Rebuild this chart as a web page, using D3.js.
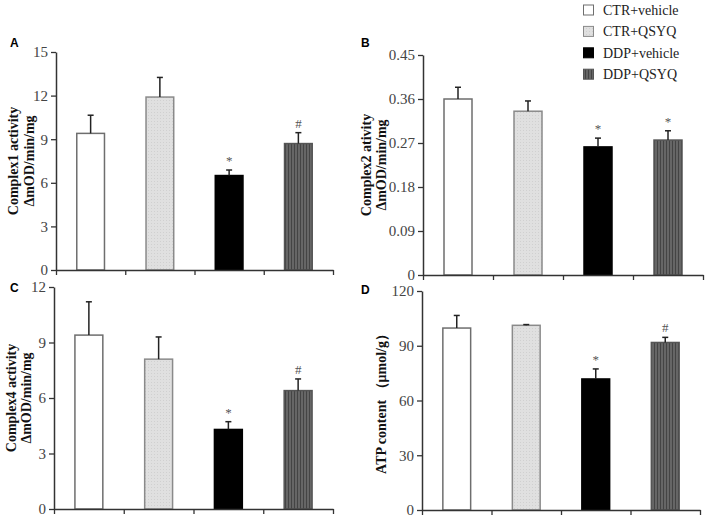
<!DOCTYPE html>
<html>
<head>
<meta charset="utf-8">
<script src="https://cdn.jsdelivr.net/npm/d3@7"></script>
<style>
  html, body { margin: 0; padding: 0; background: #fff; }
  svg { display: block; }
</style>
</head>
<body>
<svg id="chart" width="708" height="518"></svg>
<script>
// ---- data ----
const groups = ["CTR+vehicle", "CTR+QSYQ", "DDP+vehicle", "DDP+QSYQ"];

const complex1Values = [9.4, 11.9, 6.5, 8.7];
const complex1Errors = [1.25, 1.35, 0.38, 0.75];
const complex1Marks  = ["", "", "*", "#"];
const complex1Ticks  = [0, 3, 6, 9, 12, 15];

const complex2Values = [0.36, 0.335, 0.262, 0.276];
const complex2Errors = [0.024, 0.021, 0.018, 0.019];
const complex2Marks  = ["", "", "*", "*"];
const complex2Ticks  = [0, 0.09, 0.18, 0.27, 0.36, 0.45];

const complex4Values = [9.4, 8.1, 4.3, 6.4];
const complex4Errors = [1.8, 1.2, 0.42, 0.63];
const complex4Marks  = ["", "", "*", "#"];
const complex4Ticks  = [0, 3, 6, 9, 12];

const atpValues = [99.7, 101.2, 71.8, 91.8];
const atpErrors = [6.9, 0.4, 5.5, 2.8];
const atpMarks  = ["", "", "*", "#"];
const atpTicks  = [0, 30, 60, 90, 120];

const panelLetters = ["A", "B", "C", "D"];
const panelTitles = [
  ["Complex1 activity", "\u0394mOD/min/mg"],
  ["Complex2 ativity", "\u0394mOD/min/mg"],
  ["Complex4 activity", "\u0394mOD/min/mg"],
  ["ATP content \uFF08\u03BCmol/g\uFF09"]
];

// ---- layout ----
const svg = d3.select("#chart");
const serif = "'Liberation Serif','Times New Roman',serif";
const sans = "'Liberation Sans',Arial,sans-serif";

const defs = svg.append("defs");
const pLight = defs.append("pattern").attr("id", "pLight").attr("patternUnits", "userSpaceOnUse")
  .attr("width", 3).attr("height", 3);
pLight.append("rect").attr("width", 3).attr("height", 3).attr("fill", "#e0e0e0");
pLight.append("rect").attr("x", 1).attr("y", 1).attr("width", 1).attr("height", 1).attr("fill", "#d0d0d0");
const pDark = defs.append("pattern").attr("id", "pDark").attr("patternUnits", "userSpaceOnUse")
  .attr("width", 3).attr("height", 3);
pDark.append("rect").attr("width", 3).attr("height", 3).attr("fill", "#666");
pDark.append("rect").attr("x", 0).attr("width", 1).attr("height", 3).attr("fill", "#444");

const fills   = ["#ffffff", "url(#pLight)", "#000000", "url(#pDark)"];
const strokes = ["#6e6e6e", "#8a8a8a", "#000000", "#555555"];

const panels = [
  { values: complex1Values, errors: complex1Errors, marks: complex1Marks, ticks: complex1Ticks,
    x0: 56, x1: 333, yTop: 52, yBot: 270, fmt: d => d, letter: [10, 47], title: [18, 34] },
  { values: complex2Values, errors: complex2Errors, marks: complex2Marks, ticks: complex2Ticks,
    x0: 423, x1: 703, yTop: 55, yBot: 275, fmt: d => d === 0 ? "0" : d.toFixed(2), letter: [361, 47], title: [371, 386] },
  { values: complex4Values, errors: complex4Errors, marks: complex4Marks, ticks: complex4Ticks,
    x0: 54, x1: 333, yTop: 287, yBot: 509, fmt: d => d, letter: [10, 292], title: [16, 31] },
  { values: atpValues, errors: atpErrors, marks: atpMarks, ticks: atpTicks,
    x0: 422, x1: 700, yTop: 291, yBot: 510, fmt: d => d, letter: [361, 294], title: [386] }
];

panels.forEach((p, i) => {
  const g = svg.append("g");
  const maxV = p.ticks[p.ticks.length - 1];
  const y = d3.scaleLinear().domain([0, maxV]).range([p.yBot, p.yTop]);
  const x = d3.scaleBand().domain(groups).range([p.x0, p.x1]).paddingInner(0.6).paddingOuter(0.3);
  const xb = d3.scaleLinear().domain([0, groups.length]).range([p.x0, p.x1]);

  // bars
  g.selectAll("rect.bar").data(groups).join("rect")
    .attr("class", "bar")
    .attr("x", d => x(d))
    .attr("width", x.bandwidth())
    .attr("y", (d, j) => y(p.values[j]))
    .attr("height", (d, j) => y(0) - y(p.values[j]))
    .attr("fill", (d, j) => fills[j])
    .attr("stroke", (d, j) => strokes[j])
    .attr("stroke-width", 1.5);

  // error bars
  groups.forEach((d, j) => {
    const cx = x(d) + x.bandwidth() / 2;
    const top = y(p.values[j] + p.errors[j]);
    g.append("line").attr("x1", cx).attr("x2", cx)
      .attr("y1", y(p.values[j])).attr("y2", top)
      .attr("stroke", "#222").attr("stroke-width", 1.5);
    g.append("line").attr("x1", cx - 3).attr("x2", cx + 3)
      .attr("y1", top).attr("y2", top)
      .attr("stroke", "#222").attr("stroke-width", 1.5);
    if (p.marks[j]) {
      g.append("text").attr("x", cx).attr("y", top - 5)
        .attr("text-anchor", "middle")
        .attr("font-family", serif).attr("font-size", 13)
        .attr("fill", "#555").text(p.marks[j]);
    }
  });

  // y axis
  const ya = g.append("g").attr("transform", `translate(${p.x0},0)`)
    .call(d3.axisLeft(y).tickValues(p.ticks).tickFormat(p.fmt).tickSize(5).tickSizeOuter(0).tickPadding(3));
  ya.select(".domain").attr("stroke", "#333").attr("stroke-width", 1.5);
  ya.selectAll(".tick line").attr("stroke", "#333").attr("stroke-width", 1.3);
  ya.selectAll(".tick text").attr("font-family", serif).attr("font-size", 15).attr("fill", "#444");

  // x axis
  const xa = g.append("g").attr("transform", `translate(0,${p.yBot})`)
    .call(d3.axisBottom(xb).tickValues(d3.range(groups.length + 1)).tickFormat("").tickSize(5).tickSizeOuter(0));
  xa.select(".domain").attr("stroke", "#333").attr("stroke-width", 1.5);
  xa.selectAll(".tick line").attr("stroke", "#333").attr("stroke-width", 1.3);

  // panel letter
  svg.append("text").attr("x", p.letter[0]).attr("y", p.letter[1])
    .attr("font-family", sans).attr("font-weight", "bold").attr("font-size", 12)
    .attr("fill", "#000").text(panelLetters[i]);

  // y title
  const cy = (p.yTop + p.yBot) / 2;
  panelTitles[i].forEach((line, k) => {
    svg.append("text")
      .attr("transform", `translate(${p.title[k]},${cy}) rotate(-90)`)
      .attr("text-anchor", "middle")
      .attr("font-family", serif).attr("font-weight", "bold").attr("font-size", 14)
      .attr("fill", "#111").text(line);
  });
});

// legend
const legend = svg.append("g");
groups.forEach((d, j) => {
  const yy = 15 + j * 21.4;
  legend.append("rect").attr("x", 583.5).attr("y", yy - 10).attr("width", 10).attr("height", 10)
    .attr("fill", fills[j]).attr("stroke", strokes[j]).attr("stroke-width", 1);
  legend.append("text").attr("x", 603).attr("y", yy)
    .attr("font-family", serif).attr("font-size", 14).attr("fill", "#222").text(d);
});
</script>
</body>
</html>
